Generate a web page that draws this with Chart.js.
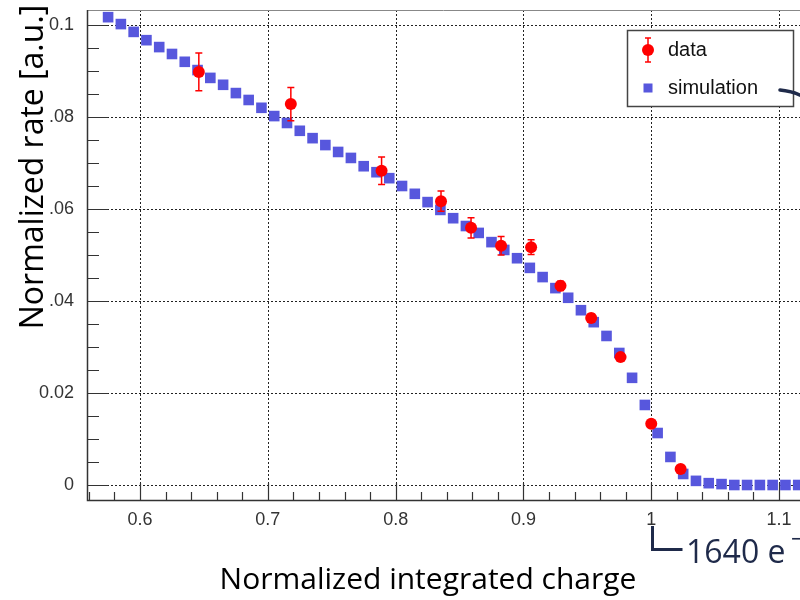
<!DOCTYPE html>
<html>
<head>
<meta charset="utf-8">
<script src="https://cdn.jsdelivr.net/npm/chart.js@4"></script>
<style>
html, body { margin: 0; padding: 0; background: #fff; }
</style>
</head>
<body>
<canvas id="rateChart" width="800" height="600"></canvas>
<script>
// simulation (blue squares)
const simX = [0.575, 0.585, 0.595, 0.605, 0.615, 0.625, 0.635, 0.645, 0.655, 0.665,
              0.675, 0.685, 0.695, 0.705, 0.715, 0.725, 0.735, 0.745, 0.755, 0.765,
              0.775, 0.785, 0.795, 0.805, 0.815, 0.825, 0.835, 0.845, 0.855, 0.865,
              0.875, 0.885, 0.895, 0.905, 0.915, 0.925, 0.935, 0.945, 0.955, 0.965,
              0.975, 0.985, 0.995, 1.005, 1.015, 1.025, 1.035, 1.045, 1.055, 1.065,
              1.075, 1.085, 1.095, 1.105, 1.115];
const simY = [0.1017, 0.1002, 0.0985, 0.0967, 0.0952, 0.0937, 0.0920, 0.0902, 0.0885, 0.0870,
              0.0852, 0.0837, 0.0820, 0.0802, 0.0787, 0.0770, 0.0754, 0.0739, 0.0724, 0.0711,
              0.0693, 0.0680, 0.0667, 0.0650, 0.0633, 0.0615, 0.0598, 0.0580, 0.0563, 0.0548,
              0.0528, 0.0511, 0.0493, 0.0472, 0.0452, 0.0428, 0.0407, 0.0380, 0.0354, 0.0324,
              0.0287, 0.0233, 0.0174, 0.0113, 0.0061, 0.0024, 0.0009, 0.0004, 0.0002, 0,
              0, 0, 0, 0, 0];

// measured data (red circles with error bars)
const dataX = [0.646, 0.718, 0.789, 0.8355, 0.859, 0.8825, 0.906, 0.929, 0.953, 0.976, 1.0, 1.023];
const dataY = [0.0898, 0.0828, 0.0683, 0.0617, 0.0559, 0.0520, 0.0517, 0.0433, 0.0363, 0.0278, 0.0133, 0.0035];
const dataErr = [0.0041, 0.0036, 0.0030, 0.0022, 0.0022, 0.0020, 0.0016, 0.0010, 0.0009, 0.0006, 0.0005, 0.0004];

const xTickValues = [0.6, 0.7, 0.8, 0.9, 1.0, 1.1];
const xTickLabels = ['0.6', '0.7', '0.8', '0.9', '1', '1.1'];
const yTickValues = [0, 0.02, 0.04, 0.06, 0.08, 0.1];
const yTickLabels = ['0', '0.02', '.04', '.06', '.08', '0.1'];

const RED = '#ff0000';
const BLUE = '#5757dd';
const NAVY = '#1f2a4a';
const TITLE_FAMILY = '"Open Sans", "Noto Sans", sans-serif';

// dotted grid + inward ROOT-style ticks
const framePlugin = {
    id: 'frame',
    beforeDatasetsDraw(chart) {
        const {ctx, chartArea: a, scales: {x, y}} = chart;
        ctx.save();
        ctx.strokeStyle = '#222';
        ctx.lineWidth = 1;
        ctx.setLineDash([2, 2]);
        ctx.beginPath();
        for (const v of xTickValues) {
            const px = Math.round(x.getPixelForValue(v)) + 0.5;
            ctx.moveTo(px, a.top); ctx.lineTo(px, a.bottom);
        }
        for (const v of yTickValues) {
            const py = Math.round(y.getPixelForValue(v)) + 0.5;
            ctx.moveTo(a.left, py); ctx.lineTo(a.right, py);
        }
        ctx.stroke();
        ctx.setLineDash([]);

        // frame
        ctx.strokeStyle = '#888';
        ctx.beginPath();
        ctx.moveTo(a.left, a.top + 0.5); ctx.lineTo(a.right, a.top + 0.5);
        ctx.stroke();
        ctx.strokeStyle = '#333';
        ctx.lineWidth = 1.5;
        ctx.beginPath();
        ctx.moveTo(a.left + 0.5, a.top); ctx.lineTo(a.left + 0.5, a.bottom + 0.5);
        ctx.lineTo(a.right, a.bottom + 0.5);
        ctx.stroke();

        // ticks
        ctx.lineWidth = 1.2;
        ctx.beginPath();
        for (let i = 0; i <= 30; i++) {
            const v = 0.56 + i * 0.02;
            const px = Math.round(x.getPixelForValue(v)) + 0.5;
            if (px < a.left || px > a.right) continue;
            const major = i % 5 === 2;
            ctx.moveTo(px, a.bottom); ctx.lineTo(px, a.bottom - (major ? 17 : 8));
        }
        for (let i = 0; i <= 20; i++) {
            const v = i * 0.005;
            const py = Math.round(y.getPixelForValue(v)) + 0.5;
            const major = i % 4 === 0;
            ctx.moveTo(a.left, py); ctx.lineTo(a.left + (major ? 21 : 12), py);
        }
        ctx.stroke();
        ctx.restore();
    },
    afterDatasetsDraw(chart) {
        const {ctx, scales: {x, y}} = chart;
        ctx.save();
        ctx.strokeStyle = RED;
        ctx.lineWidth = 1.5;
        ctx.beginPath();
        dataX.forEach((v, i) => {
            const px = x.getPixelForValue(v);
            const top = y.getPixelForValue(dataY[i] + dataErr[i]);
            const bot = y.getPixelForValue(dataY[i] - dataErr[i]);
            ctx.moveTo(px, top); ctx.lineTo(px, bot);
            ctx.moveTo(px - 3.5, top); ctx.lineTo(px + 3.5, top);
            ctx.moveTo(px - 3.5, bot); ctx.lineTo(px + 3.5, bot);
        });
        ctx.stroke();
        ctx.restore();
    },
    afterDraw(chart) {
        const {ctx, scales: {x}} = chart;
        ctx.save();

        // legend box
        ctx.fillStyle = '#fff';
        ctx.fillRect(627, 30, 167, 77);
        ctx.strokeStyle = '#444';
        ctx.lineWidth = 1.5;
        ctx.strokeRect(627.5, 30.5, 166, 76);

        ctx.strokeStyle = RED;
        ctx.lineWidth = 1.5;
        ctx.beginPath();
        ctx.moveTo(648, 38); ctx.lineTo(648, 62);
        ctx.moveTo(645, 38); ctx.lineTo(651, 38);
        ctx.moveTo(645, 62); ctx.lineTo(651, 62);
        ctx.stroke();
        ctx.fillStyle = RED;
        ctx.beginPath();
        ctx.arc(648, 50, 6, 0, Math.PI * 2);
        ctx.fill();
        ctx.fillStyle = BLUE;
        ctx.fillRect(643.5, 83.5, 9, 9);

        ctx.fillStyle = '#111';
        ctx.font = '20px "Liberation Sans", Arial, sans-serif';
        ctx.textBaseline = 'middle';
        ctx.fillText('data', 668, 50);
        ctx.fillText('simulation', 668, 88);

        // pointer line from legend
        ctx.strokeStyle = NAVY;
        ctx.lineWidth = 3.5;
        ctx.lineCap = 'round';
        ctx.beginPath();
        ctx.moveTo(780, 90);
        ctx.quadraticCurveTo(792, 91, 802, 96);
        ctx.stroke();

        // 1640 e- marker under x = 1
        const px = Math.round(x.getPixelForValue(1)) + 1.5;
        ctx.lineCap = 'butt';
        ctx.lineWidth = 3;
        ctx.beginPath();
        ctx.moveTo(px, 526); ctx.lineTo(px, 549.5); ctx.lineTo(px + 30, 549.5);
        ctx.stroke();
        ctx.fillStyle = NAVY;
        ctx.font = '32px ' + TITLE_FAMILY;
        ctx.textBaseline = 'alphabetic';
        ctx.fillText('1640 e', 686, 563);
        ctx.font = '20px "DejaVu Sans", sans-serif';
        ctx.fillText('\u2212', 790, 545);

        // axis titles
        ctx.fillStyle = '#000';
        ctx.textAlign = 'center';
        ctx.textBaseline = 'middle';
        ctx.font = '30px ' + TITLE_FAMILY;
        ctx.fillText('Normalized integrated charge', 428, 580);
        ctx.translate(34, 167);
        ctx.rotate(-Math.PI / 2);
        ctx.font = '32px ' + TITLE_FAMILY;
        ctx.fillText('Normalized rate [a.u.]', 0, 0);
        ctx.restore();
    }
};

const tickFont = {family: '"Liberation Sans", Arial, sans-serif', size: 18};

new Chart(document.getElementById('rateChart'), {
    type: 'scatter',
    data: {
        datasets: [{
            label: 'data',
            data: dataX.map((v, i) => ({x: v, y: dataY[i]})),
            pointStyle: 'circle',
            pointRadius: 6,
            backgroundColor: RED,
            borderWidth: 0
        }, {
            label: 'simulation',
            data: simX.map((v, i) => ({x: v, y: simY[i]})),
            pointStyle: 'rect',
            pointRadius: 7.5,
            backgroundColor: BLUE,
            borderWidth: 0
        }]
    },
    options: {
        responsive: false,
        animation: false,
        events: [],
        layout: { autoPadding: false, padding: {top: 10, right: 0, bottom: 0, left: 0} },
        plugins: {
            legend: { display: false },
            tooltip: { enabled: false }
        },
        scales: {
            x: {
                type: 'linear',
                min: 0.5585,
                max: 1.1164,
                grid: { display: false },
                border: { display: false },
                afterBuildTicks: s => { s.ticks = xTickValues.map(v => ({value: v})); },
                afterFit: s => { s.height = 100; s.paddingLeft = 0; s.paddingRight = 0; },
                ticks: {
                    font: tickFont,
                    color: '#333',
                    padding: 1,
                    maxRotation: 0,
                    autoSkip: false,
                    callback: v => xTickLabels[xTickValues.indexOf(v)]
                }
            },
            y: {
                type: 'linear',
                min: -0.00326,
                max: 0.10326,
                grid: { display: false },
                border: { display: false },
                afterBuildTicks: s => { s.ticks = yTickValues.map(v => ({value: v})); },
                afterFit: s => { s.width = 87; s.paddingTop = 0; s.paddingBottom = 0; },
                ticks: {
                    font: tickFont,
                    color: '#333',
                    padding: 5,
                    autoSkip: false,
                    callback: v => yTickLabels[yTickValues.indexOf(v)]
                }
            }
        }
    },
    plugins: [framePlugin]
});
</script>
</body>
</html>
